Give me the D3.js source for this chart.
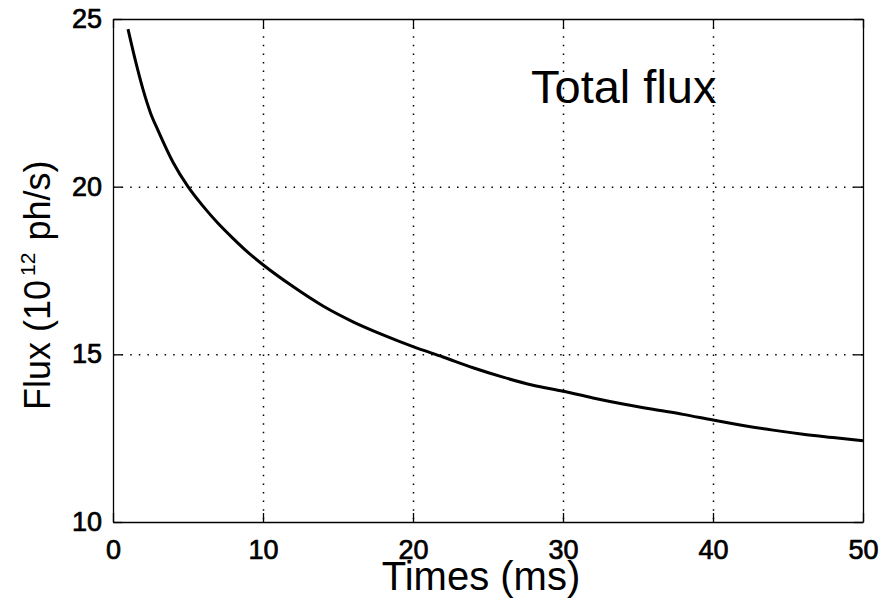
<!DOCTYPE html>
<html>
<head>
<meta charset="utf-8">
<script src="https://cdn.jsdelivr.net/npm/d3@7"></script>
<style>
  body { margin: 0; background: #fff; }
  svg text { font-family: "Liberation Sans", Arial, sans-serif; fill: #000; }
</style>
</head>
<body>
<div id="chart"></div>
<script>
// values
const times = [1, 1.5, 2, 2.5, 3, 4, 5, 6, 7, 8, 9, 10, 12, 14, 16, 18, 20, 22, 24, 26, 28, 30, 32, 34, 36, 38, 40, 42, 44, 46, 48, 50];
const flux = [24.7, 23.75, 22.9, 22.2, 21.68, 20.73, 20.0, 19.42, 18.91, 18.46, 18.04, 17.67, 17.02, 16.44, 15.97, 15.58, 15.23, 14.92, 14.6, 14.32, 14.08, 13.9, 13.7, 13.52, 13.36, 13.21, 13.04, 12.88, 12.74, 12.62, 12.52, 12.42];
const xTicks = [0, 10, 20, 30, 40, 50];
const yTicks = [10, 15, 20, 25];

const data = times.map((t, i) => ({ t: t, f: flux[i] }));

const W = 883, H = 608;
const margin = { top: 19, right: 20, bottom: 86, left: 113 };
const width = W - margin.left - margin.right;
const height = H - margin.top - margin.bottom;

const svg = d3
  .select("#chart")
  .append("svg")
  .attr("width", W)
  .attr("height", H);

const g = svg.append("g").attr("transform", `translate(${margin.left}, ${margin.top})`);

const x = d3.scaleLinear().domain([0, 50]).range([0, width]);
const y = d3.scaleLinear().domain([10, 25]).range([height, 0]);

// dotted grid
g.selectAll(".vgrid")
  .data(xTicks.slice(1, -1))
  .enter()
  .append("line")
  .attr("x1", (d) => x(d) + 0.5)
  .attr("x2", (d) => x(d) + 0.5)
  .attr("y1", 0)
  .attr("y2", height)
  .attr("stroke", "#000")
  .attr("stroke-width", 1.5)
  .attr("stroke-dasharray", "1.5,7.1");

g.selectAll(".hgrid")
  .data(yTicks.slice(1, -1))
  .enter()
  .append("line")
  .attr("x1", 0)
  .attr("x2", width)
  .attr("y1", (d) => y(d) + 0.5)
  .attr("y2", (d) => y(d) + 0.5)
  .attr("stroke", "#000")
  .attr("stroke-width", 1.5)
  .attr("stroke-dasharray", "1.5,7.1");

// axes with inward ticks on every side
const tick = 9;
g.append("g")
  .attr("class", "x-axis")
  .attr("transform", `translate(0, ${height})`)
  .call(d3.axisBottom(x).tickValues(xTicks).tickSizeInner(-tick).tickSizeOuter(0).tickPadding(18));
g.append("g")
  .attr("class", "x-axis-top")
  .call(d3.axisTop(x).tickValues(xTicks).tickSizeInner(-tick).tickSizeOuter(0).tickFormat(""));
g.append("g")
  .attr("class", "y-axis")
  .call(d3.axisLeft(y).tickValues(yTicks).tickSizeInner(-tick).tickSizeOuter(0).tickPadding(11));
g.append("g")
  .attr("class", "y-axis-right")
  .attr("transform", `translate(${width}, 0)`)
  .call(d3.axisRight(y).tickValues(yTicks).tickSizeInner(-tick).tickSizeOuter(0).tickFormat(""));

g.selectAll(".domain").attr("stroke", "#000").attr("stroke-width", 1.3);
g.selectAll(".tick line").attr("stroke", "#000").attr("stroke-width", 1.3);
g.selectAll(".x-axis text, .y-axis text")
  .attr("font-size", 27)
  .attr("font-family", "Liberation Sans, Arial, sans-serif")
  .attr("fill", "#000")
  .attr("stroke", "#000")
  .attr("stroke-width", 0.7);

// the flux curve
const line = d3
  .line()
  .x((d) => x(d.t))
  .y((d) => y(d.f))
  .curve(d3.curveMonotoneX);

g.append("path")
  .datum(data)
  .attr("fill", "none")
  .attr("stroke", "#000")
  .attr("stroke-width", 3)
  .attr("d", line);

// title inside the plot
g.append("text")
  .attr("x", 418)
  .attr("y", 84)
  .attr("font-size", 47)
  .text("Total flux");

// x axis label
svg.append("text")
  .attr("x", 481)
  .attr("y", 590)
  .attr("text-anchor", "middle")
  .attr("font-size", 40)
  .text("Times (ms)");

// y axis label
const ylab = svg.append("text")
  .attr("transform", "translate(50, 410) rotate(-90)")
  .attr("text-anchor", "start")
  .attr("font-size", 36);
ylab.append("tspan").text("Flux (10");
ylab.append("tspan").attr("font-size", 21).attr("dy", -15).attr("dx", 4).text("12");
ylab.append("tspan").attr("dy", 15).attr("dx", 2).text(" ph/s)");
</script>
</body>
</html>
